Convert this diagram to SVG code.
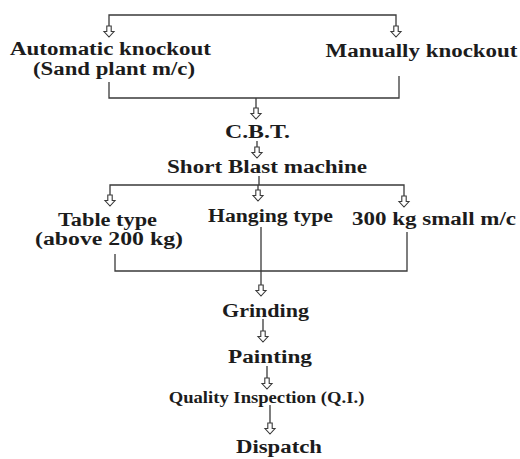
<svg xmlns="http://www.w3.org/2000/svg" width="520" height="459" viewBox="0 0 520 459">
<style>
text{font-family:'Liberation Serif','Times New Roman',Times,serif;font-weight:700;font-size:18px;fill:#1c1c1c;text-anchor:middle}
.sm{font-size:16.5px}
.ln{stroke:#3a3a3a;stroke-width:1.3;fill:none}
.ar{fill:#fff;stroke:#3a3a3a;stroke-width:1.1}
</style>
<defs>
<path id="arr" class="ar" d="M-2.2,0 H2.2 V5.5 H5 L0,11 L-5,5.5 H-2.2 Z"/>
</defs>
<rect width="520" height="459" fill="#fff"/>
<g id="connectors">
<path class="ln" d="M109,27 V15 H396 V27"/>
<use href="#arr" x="109" y="26"/>
<use href="#arr" x="396" y="26"/>
<path class="ln" d="M109,82 V98 H399 V76 M256,98 V108"/>
<use href="#arr" x="256" y="108"/>
<path class="ln" d="M257,141 V147"/>
<use href="#arr" x="257" y="147"/>
<path class="ln" d="M259,176 V185 M110,196 V185 H404 V197 M258,185 V190"/>
<use href="#arr" x="110" y="195"/>
<use href="#arr" x="258" y="190"/>
<use href="#arr" x="404" y="196"/>
<path class="ln" d="M261,227 V285 M115,254 V271 H407 V232"/>
<use href="#arr" x="261" y="285"/>
<path class="ln" d="M263,319 V331"/>
<use href="#arr" x="263" y="331"/>
<path class="ln" d="M267,366 V378"/>
<use href="#arr" x="267" y="378"/>
<path class="ln" d="M270,405 V423"/>
<use href="#arr" x="270" y="423"/>
</g>
<g id="auto-knockout">
<text x="110.5" y="55" textLength="201" lengthAdjust="spacingAndGlyphs">Automatic knockout</text>
<text x="114" y="75" textLength="162" lengthAdjust="spacingAndGlyphs">(Sand plant m/c)</text>
</g>
<g id="manual-knockout">
<text x="421.5" y="57" textLength="192" lengthAdjust="spacingAndGlyphs">Manually knockout</text>
</g>
<g id="cbt">
<text x="257.5" y="138" textLength="65" lengthAdjust="spacingAndGlyphs">C.B.T.</text>
</g>
<g id="short-blast">
<text x="267" y="173" textLength="200" lengthAdjust="spacingAndGlyphs">Short Blast machine</text>
</g>
<g id="table-type">
<text x="107.5" y="226" textLength="99" lengthAdjust="spacingAndGlyphs">Table type</text>
<text x="109" y="245" textLength="148" lengthAdjust="spacingAndGlyphs">(above 200 kg)</text>
</g>
<g id="hanging-type">
<text x="270.5" y="222" textLength="125" lengthAdjust="spacingAndGlyphs">Hanging type</text>
</g>
<g id="small-mc">
<text x="434" y="225" textLength="164" lengthAdjust="spacingAndGlyphs">300 kg small m/c</text>
</g>
<g id="grinding">
<text x="265.5" y="317" textLength="87" lengthAdjust="spacingAndGlyphs">Grinding</text>
</g>
<g id="painting">
<text x="270" y="363" textLength="84" lengthAdjust="spacingAndGlyphs">Painting</text>
</g>
<g id="quality">
<text class="sm" transform="translate(266.5,403) scale(1.13,1)">Quality Inspection (Q.I.)</text>
</g>
<g id="dispatch">
<text x="279" y="453" textLength="86" lengthAdjust="spacingAndGlyphs">Dispatch</text>
</g>
</svg>
